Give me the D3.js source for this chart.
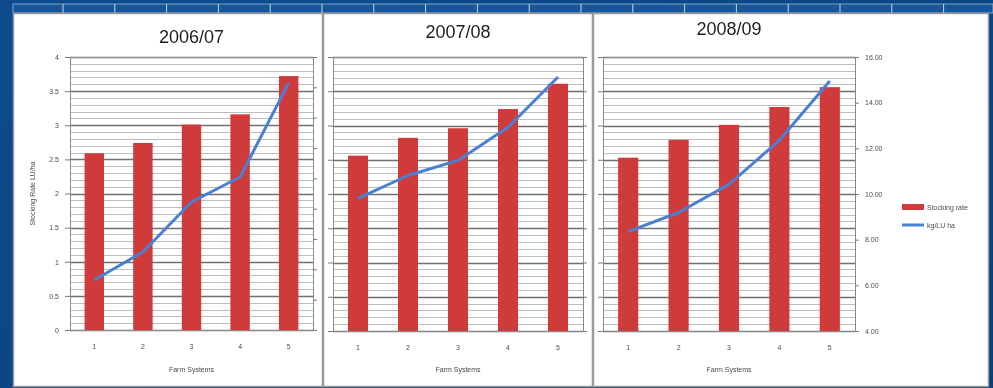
<!DOCTYPE html>
<html>
<head>
<meta charset="utf-8">
<script src="https://cdn.jsdelivr.net/npm/d3@7"></script>
<style>
  html, body { margin: 0; padding: 0; background: #0c4a8a; }
  svg { display: block; }
  text { font-family: "Liberation Sans", Arial, sans-serif; }
</style>
</head>
<body>
<svg id="chart" width="993" height="388"></svg>
<script>
// Farm systems on the x axis
const farmSystems = ["1", "2", "3", "4", "5"];

// Season titles
const seasons = ["2006/07", "2007/08", "2008/09"];

// Stocking rate (LU/ha) per farm system, one list per season
const stockingRate0607 = [2.59, 2.74, 3.01, 3.16, 3.72];
const stockingRate0708 = [2.56, 2.82, 2.96, 3.24, 3.61];
const stockingRate0809 = [2.53, 2.79, 3.01, 3.27, 3.56];

// Output per LU per ha (secondary axis), one list per season
const kgPerLU0607 = [3.30, 5.14, 8.44, 10.09, 16.29];
const kgPerLU0708 = [7.74, 9.08, 9.96, 11.90, 14.83];
const kgPerLU0809 = [8.35, 9.19, 10.42, 12.35, 14.95];

// Axis tick labels
const leftTicks = [0, 0.5, 1, 1.5, 2, 2.5, 3, 3.5, 4];
const rightTicks0809 = [4, 6, 8, 10, 12, 14, 16];

// Legend entries
const legendLabels = ["Stocking rate", "kg/LU ha"];
const xAxisTitle = "Farm Systems";
const yAxisTitle = "Stocking Rate LU/ha";

const BAR = "#cf3b3b";
const LINE = "#4a80d2";
const LABEL = "#4a4a4a";

const svg = d3.select("#chart");
const defs = svg.append("defs");
defs.append("filter").attr("id", "soft")
  .append("feGaussianBlur").attr("stdDeviation", 0.45);

const bgGrad = defs.append("linearGradient").attr("id", "bg")
  .attr("x1", 0).attr("y1", 0).attr("x2", 1).attr("y2", 1);
bgGrad.append("stop").attr("offset", 0).attr("stop-color", "#0d4c8e");
bgGrad.append("stop").attr("offset", 1).attr("stop-color", "#0a3f7a");

svg.append("rect").attr("width", 993).attr("height", 388).attr("fill", "url(#bg)");

const root = svg.append("g").attr("filter", "url(#soft)");

// Header strip along the top
root.append("rect").attr("x", 13).attr("y", 4).attr("width", 980).attr("height", 9)
  .attr("fill", "#16579c").attr("stroke", "#9fb5d0").attr("stroke-width", 0.8);
root.selectAll(".hdrsep").data(d3.range(63, 993, 51.8)).join("line")
  .attr("x1", d => d).attr("x2", d => d).attr("y1", 4).attr("y2", 13)
  .attr("stroke", "#c9d6e6").attr("stroke-width", 1);

const panels = [
  { title: seasons[0], bars: stockingRate0607, line: kgPerLU0607,
    box: [13, 13, 309, 373], plot: [70, 57, 313, 330], titleY: 43,
    rightDomain: [0, 18], rightTicks: d3.range(0, 19, 2), rightLabels: false,
    leftLabels: true },
  { title: seasons[1], bars: stockingRate0708, line: kgPerLU0708,
    box: [323, 13, 269, 373], plot: [333, 57, 583, 331], titleY: 38,
    rightDomain: [0, 16], rightTicks: d3.range(0, 17, 2), rightLabels: false,
    leftLabels: false },
  { title: seasons[2], bars: stockingRate0809, line: kgPerLU0809,
    box: [593, 13, 395, 373], plot: [603, 57, 855, 331], titleY: 35,
    rightDomain: [4, 16], rightTicks: rightTicks0809, rightLabels: true,
    leftLabels: false, legend: true }
];

panels.forEach(p => {
  const g = root.append("g");
  const [bx, by, bw, bh] = p.box;
  g.append("rect").attr("x", bx + 0.5).attr("y", by + 0.5).attr("width", bw).attr("height", bh)
    .attr("fill", "#ffffff").attr("stroke", "#9a9a9a").attr("stroke-width", 1.5);

  const [x0, y0, x1, y1] = p.plot;
  const x = d3.scaleBand().domain(farmSystems).range([x0, x1]).paddingInner(0.6).paddingOuter(0.3);
  const xc = d => x(d) + x.bandwidth() / 2;
  const y = d3.scaleLinear().domain([0, 4]).range([y1, y0]);
  const y2 = d3.scaleLinear().domain(p.rightDomain).range([y1, y0]);

  // minor gridlines
  g.selectAll(".minor").data(d3.range(0, 4.001, 0.1)).join("line")
    .attr("x1", x0).attr("x2", x1)
    .attr("y1", d => Math.round(y(d)) + 0.5).attr("y2", d => Math.round(y(d)) + 0.5)
    .attr("stroke", "#bdbdbd").attr("stroke-width", 1);
  // major gridlines
  g.selectAll(".major").data(leftTicks).join("line")
    .attr("x1", x0).attr("x2", x1)
    .attr("y1", d => Math.round(y(d)) + 0.5).attr("y2", d => Math.round(y(d)) + 0.5)
    .attr("stroke", "#6f6f6f").attr("stroke-width", 1.4);

  g.append("rect").attr("x", x0 + 0.5).attr("y", y0 + 0.5).attr("width", x1 - x0).attr("height", y1 - y0)
    .attr("fill", "none").attr("stroke", "#8a8a8a").attr("stroke-width", 1);

  // bars
  g.selectAll(".bar").data(p.bars).join("rect")
    .attr("x", (d, i) => x(farmSystems[i]))
    .attr("width", x.bandwidth())
    .attr("y", d => y(d))
    .attr("height", d => y(0) - y(d))
    .attr("fill", BAR);

  // left axis
  const la = g.append("g").attr("transform", `translate(${x0},0)`)
    .call(d3.axisLeft(y).tickValues(leftTicks).tickSize(5).tickPadding(6)
      .tickFormat(p.leftLabels ? d3.format("") : () => ""));
  la.select(".domain").attr("stroke", "#8a8a8a");
  la.selectAll(".tick line").attr("stroke", "#7a7a7a");
  la.selectAll("text").attr("font-size", 7).attr("fill", LABEL);

  // right axis
  const ra = g.append("g").attr("transform", `translate(${x1},0)`)
    .call(d3.axisRight(y2).tickValues(p.rightTicks).tickSize(4).tickPadding(6)
      .tickFormat(p.rightLabels ? d3.format(".2f") : () => ""));
  ra.select(".domain").attr("stroke", "#8a8a8a");
  ra.selectAll(".tick line").attr("stroke", "#7a7a7a");
  ra.selectAll("text").attr("font-size", 7).attr("fill", LABEL);

  // bottom axis
  const ba = g.append("g").attr("transform", `translate(0,${y1})`)
    .call(d3.axisBottom(x).tickSize(0).tickPadding(14));
  ba.select(".domain").attr("stroke", "#8a8a8a");
  ba.selectAll("text").attr("font-size", 7).attr("fill", LABEL);

  // line series
  g.append("path").datum(p.line)
    .attr("fill", "none").attr("stroke", LINE).attr("stroke-width", 3)
    .attr("stroke-linejoin", "round")
    .attr("d", d3.line().x((d, i) => xc(farmSystems[i])).y(d => y2(d)));

  // titles
  g.append("text").attr("x", (x0 + x1) / 2).attr("y", p.titleY)
    .attr("text-anchor", "middle").attr("font-size", 18)
    .attr("font-family", "Open Sans, sans-serif").attr("fill", "#1e1e1e")
    .text(p.title);

  g.append("text").attr("x", (x0 + x1) / 2).attr("y", 372)
    .attr("text-anchor", "middle").attr("font-size", 7).attr("fill", LABEL)
    .text(xAxisTitle);

  if (p.leftLabels) {
    g.append("text").attr("transform", `translate(35,${(y0 + y1) / 2}) rotate(-90)`)
      .attr("text-anchor", "middle").attr("font-size", 7).attr("fill", LABEL)
      .text(yAxisTitle);
  }

  if (p.legend) {
    const lg = g.append("g").attr("transform", "translate(902,207)");
    lg.append("rect").attr("x", 0).attr("y", -3).attr("width", 22).attr("height", 6).attr("fill", BAR);
    lg.append("text").attr("x", 25).attr("y", 2.5).attr("font-size", 7).attr("fill", LABEL).text(legendLabels[0]);
    lg.append("line").attr("x1", 0).attr("x2", 22).attr("y1", 18).attr("y2", 18)
      .attr("stroke", LINE).attr("stroke-width", 3);
    lg.append("text").attr("x", 25).attr("y", 20.5).attr("font-size", 7).attr("fill", LABEL).text(legendLabels[1]);
  }
});
</script>
</body>
</html>
